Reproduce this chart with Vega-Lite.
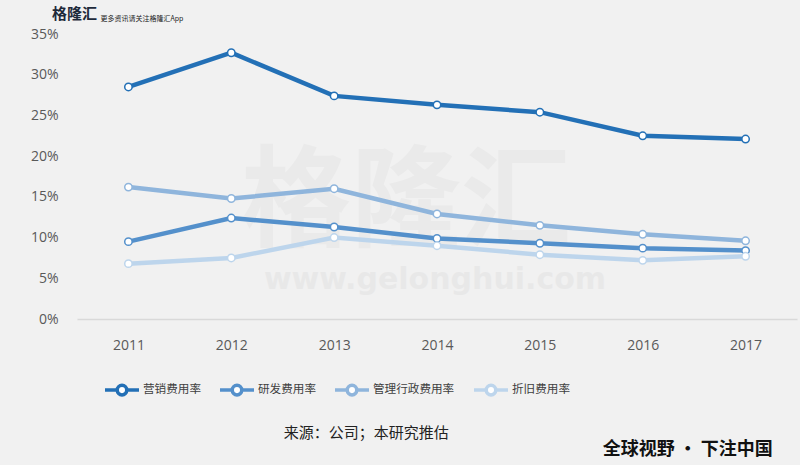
{
  "$schema": "https://vega.github.io/schema/vega-lite/v6.json",
  "width": 720,
  "height": 285,
  "autosize": {"type": "none"},
  "padding": {"left": 77, "top": 34, "right": 3, "bottom": 146},
  "background": "#f1f1f1",
  "config": {"view": {"stroke": null}, "font": "Noto Sans CJK SC"},
  "data": {
    "values": [
      {"series": "营销费用率", "year": "2011", "rate": 0.285},
      {"series": "营销费用率", "year": "2012", "rate": 0.327},
      {"series": "营销费用率", "year": "2013", "rate": 0.274},
      {"series": "营销费用率", "year": "2014", "rate": 0.263},
      {"series": "营销费用率", "year": "2015", "rate": 0.254},
      {"series": "营销费用率", "year": "2016", "rate": 0.225},
      {"series": "营销费用率", "year": "2017", "rate": 0.221},
      {"series": "研发费用率", "year": "2011", "rate": 0.095},
      {"series": "研发费用率", "year": "2012", "rate": 0.124},
      {"series": "研发费用率", "year": "2013", "rate": 0.113},
      {"series": "研发费用率", "year": "2014", "rate": 0.099},
      {"series": "研发费用率", "year": "2015", "rate": 0.093},
      {"series": "研发费用率", "year": "2016", "rate": 0.087},
      {"series": "研发费用率", "year": "2017", "rate": 0.084},
      {"series": "管理行政费用率", "year": "2011", "rate": 0.162},
      {"series": "管理行政费用率", "year": "2012", "rate": 0.148},
      {"series": "管理行政费用率", "year": "2013", "rate": 0.160},
      {"series": "管理行政费用率", "year": "2014", "rate": 0.129},
      {"series": "管理行政费用率", "year": "2015", "rate": 0.115},
      {"series": "管理行政费用率", "year": "2016", "rate": 0.104},
      {"series": "管理行政费用率", "year": "2017", "rate": 0.096},
      {"series": "折旧费用率", "year": "2011", "rate": 0.068},
      {"series": "折旧费用率", "year": "2012", "rate": 0.075},
      {"series": "折旧费用率", "year": "2013", "rate": 0.100},
      {"series": "折旧费用率", "year": "2014", "rate": 0.090},
      {"series": "折旧费用率", "year": "2015", "rate": 0.079},
      {"series": "折旧费用率", "year": "2016", "rate": 0.072},
      {"series": "折旧费用率", "year": "2017", "rate": 0.077}
    ]
  },
  "layer": [
    {
      "data": {"values": [{"label": "格隆汇"}]},
      "mark": {"type": "text", "fontSize": 110, "fontWeight": "bold", "fill": "#c8c8c8", "opacity": 0.16, "dx": -31, "baseline": "middle", "align": "center"},
      "encoding": {
        "x": {"datum": "2014", "type": "ordinal"},
        "y": {"datum": 0.14, "type": "quantitative"},
        "text": {"field": "label"}
      }
    },
    {
      "data": {"values": [{"label": "www.gelonghui.com"}]},
      "mark": {"type": "text", "font": "DejaVu Sans", "fontSize": 30, "fontWeight": "bold", "fill": "#c8c8c8", "opacity": 0.2, "dx": -2, "baseline": "middle", "align": "center"},
      "encoding": {
        "x": {"datum": "2014", "type": "ordinal"},
        "y": {"datum": 0.048, "type": "quantitative"},
        "text": {"field": "label"}
      }
    },
    {
      "mark": {"type": "line", "strokeWidth": 4.5, "point": {"filled": false, "fill": "white", "size": 55, "strokeWidth": 1.5}},
      "encoding": {
        "x": {
          "field": "year", "type": "ordinal",
          "scale": {"type": "point", "padding": 0.5, "domain": ["2011", "2012", "2013", "2014", "2015", "2016", "2017"]},
          "axis": {"title": null, "labelAngle": 0, "labelAlign": "center", "ticks": false, "labelPadding": 26, "labelFont": "Open Sans", "labelFontSize": 14, "labelColor": "#595959", "domainColor": "#d9d9d9", "domainWidth": 1.5}
        },
        "y": {
          "field": "rate", "type": "quantitative",
          "scale": {"domain": [0, 0.35]},
          "axis": {"title": null, "values": [0, 0.05, 0.1, 0.15, 0.2, 0.25, 0.3, 0.35], "format": ".0%", "grid": false, "domain": false, "ticks": false, "labelPadding": 19, "labelFont": "Open Sans", "labelFontSize": 14, "labelColor": "#595959"}
        },
        "color": {
          "field": "series", "type": "nominal",
          "scale": {"domain": ["营销费用率", "研发费用率", "管理行政费用率", "折旧费用率"], "range": ["#2370b6", "#5490cb", "#8fb5dc", "#bdd5ec"]},
          "legend": {
            "orient": "none", "legendX": 26, "legendY": 337, "direction": "horizontal", "title": null,
            "symbolType": "M-1,0H-0.28M0.28,0H1M-0.28,0A0.28,0.28 0 1,0 0.28,0A0.28,0.28 0 1,0 -0.28,0Z",
            "symbolSize": 1156, "symbolStrokeWidth": 3.5, "symbolFillColor": "white",
            "labelFontSize": 11.6, "labelColor": "#404040", "labelFont": "Noto Sans CJK SC", "columnPadding": 12, "labelOffset": 2,
            "encode": {"symbols": {"update": {"fill": {"value": "white"}}}}
          }
        }
      }
    },
    {
      "data": {"values": [{"label": "格隆汇"}]},
      "mark": {"type": "text", "fontSize": 15, "fontWeight": "bold", "fill": "#1e2a3a", "dx": -54, "baseline": "middle", "align": "center"},
      "encoding": {
        "x": {"datum": "2011", "type": "ordinal"},
        "y": {"datum": 0.374, "type": "quantitative"},
        "text": {"field": "label"}
      }
    },
    {
      "data": {"values": [{"label": "更多资讯请关注格隆汇App"}]},
      "mark": {"type": "text", "fontSize": 7, "fill": "#222222", "dx": -28, "baseline": "middle", "align": "left"},
      "encoding": {
        "x": {"datum": "2011", "type": "ordinal"},
        "y": {"datum": 0.3684, "type": "quantitative"},
        "text": {"field": "label"}
      }
    },
    {
      "data": {"values": [{"label": "来源：公司；本研究推估"}]},
      "mark": {"type": "text", "fontSize": 15, "fill": "#222222", "dx": 32, "baseline": "middle", "align": "center"},
      "encoding": {
        "x": {"datum": "2013", "type": "ordinal"},
        "y": {"datum": -0.14, "type": "quantitative"},
        "text": {"field": "label"}
      }
    },
    {
      "data": {"values": [{"label": "全球视野 · 下注中国"}]},
      "mark": {"type": "text", "fontSize": 18, "fontWeight": "bold", "fill": "#111111", "dx": 45, "baseline": "middle", "align": "center"},
      "encoding": {
        "x": {"datum": "2016", "type": "ordinal"},
        "y": {"datum": -0.161, "type": "quantitative"},
        "text": {"field": "label"}
      }
    }
  ]
}
